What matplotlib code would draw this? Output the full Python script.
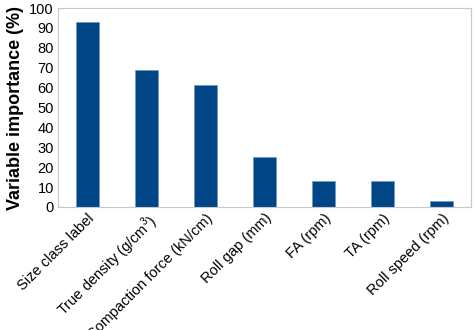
import matplotlib
matplotlib.use("Agg")
import matplotlib.pyplot as plt

categories = ["Size class label", "True density (g/cm$^3$)", "Compaction force (kN/cm)",
              "Roll gap (mm)", "FA (rpm)", "TA (rpm)", "Roll speed (rpm)"]
values = [93, 69, 61.5, 25, 13, 13, 3]
yticks = [0, 10, 20, 30, 40, 50, 60, 70, 80, 90, 100]

plt.rcParams['font.family'] = ['Liberation Sans', 'DejaVu Sans']
plt.rcParams['mathtext.fontset'] = 'custom'
plt.rcParams['mathtext.rm'] = 'Liberation Sans'

fig = plt.figure(figsize=(4.74, 3.30), dpi=100)
ax = fig.add_axes([58/474, 1-207/330, 413/474, 199/330])
x = range(len(categories))
ax.bar(x, values, width=0.4, color="#004687", edgecolor="#6f9ac4", linewidth=0.6)
ax.set_xlim(-0.5, len(categories)-0.5)
ax.set_ylim(0, 100)
ax.set_yticks(yticks)
ax.set_yticklabels([str(t) for t in yticks], fontsize=10.5)
ax.set_xticks(list(x))
ax.set_xticklabels(categories, rotation=45, ha="right", rotation_mode="anchor", fontsize=10.5)
ax.tick_params(length=0, pad=3)
for s in ax.spines.values():
    s.set_color("#c8c8c8")
    s.set_linewidth(0.8)
ax.set_ylabel("Variable importance (%)", fontsize=13, fontweight="bold", labelpad=4)
fig.savefig("out.png", dpi=100)
